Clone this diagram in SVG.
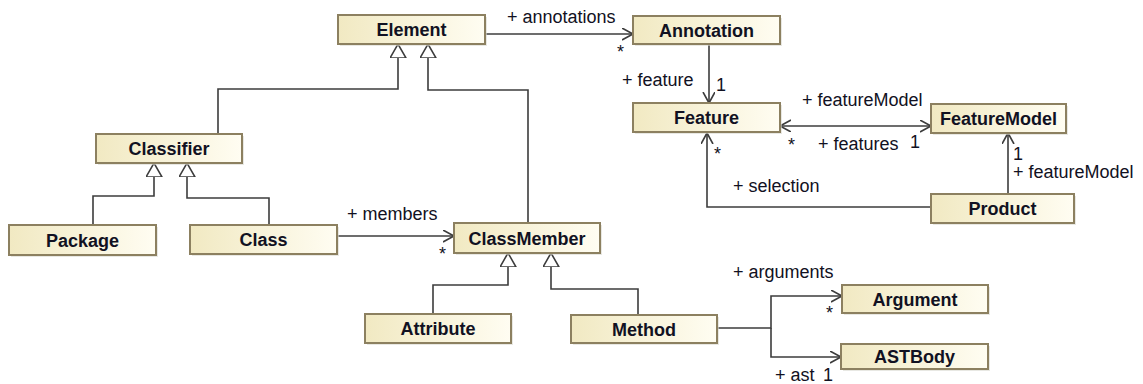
<svg xmlns="http://www.w3.org/2000/svg" width="1143" height="384" viewBox="0 0 1143 384">
<defs>
  <linearGradient id="fill" x1="0" y1="0" x2="1" y2="0">
    <stop offset="0" stop-color="#f1e9c2"/>
    <stop offset="1" stop-color="#fffdf2"/>
  </linearGradient>
  <marker id="open" markerUnits="userSpaceOnUse" markerWidth="14" markerHeight="14" refX="11" refY="6" orient="auto-start-reverse" viewBox="0 0 14 14">
    <path d="M0,0 L11,6 L0,12" fill="none" stroke="#3c3c3c" stroke-width="1.6"/>
  </marker>
  <marker id="tri" markerUnits="userSpaceOnUse" markerWidth="18" markerHeight="18" refX="14" refY="8" orient="auto" viewBox="0 0 18 18">
    <path d="M0,0 L14,8 L0,16 Z" fill="#ffffff" stroke="#3c3c3c" stroke-width="1.6"/>
  </marker>
</defs>
<style>
  .box rect.b { fill: url(#fill); stroke: #8c8060; stroke-width: 2; }
  .box rect.s { fill: #d8d8d0; opacity: 0.6; }
  .box text { font-family: "Liberation Sans", Arial, sans-serif; font-weight: bold; font-size: 18px; fill: #111122; text-anchor: middle; }
  .conn path { fill: none; stroke: #3c3c3c; stroke-width: 1.6; }
  .conn .a { marker-end: url(#open); }
  .conn .g { marker-end: url(#tri); }
  .lbl { font-family: "Liberation Sans", Arial, sans-serif; font-size: 18px; fill: #111122; }
</style>

<g id="connectors" class="conn">
  <path class="a" d="M485,34 L633,34"/>
  <path class="a" d="M709,44 L709,103"/>
  <path class="a" d="M780,126 L931,126" marker-start="url(#open)"/>
  <path class="a" d="M1008,194 L1008,133"/>
  <path class="a" d="M931,207 L707,207 L707,133"/>
  <path class="g" d="M218,134 L218,89 L398,89 L398,44"/>
  <path class="g" d="M528,223 L528,90 L428,90 L428,44"/>
  <path class="g" d="M93,225 L93,196 L154,196 L154,163"/>
  <path class="g" d="M269,225 L269,198 L187,198 L187,163"/>
  <path class="a" d="M337,236 L454,236"/>
  <path class="g" d="M433,314 L433,285 L508,285 L508,253"/>
  <path class="g" d="M638,315 L638,289 L551,289 L551,253"/>
  <path class="a" d="M717,328 L771,328 L771,296 L842,296"/>
  <path class="a" d="M771,328 L771,357 L841,357"/>
</g>

<g id="labels">
  <text class="lbl" x="507" y="23">+ annotations</text>
  <text class="lbl" x="617" y="58">*</text>
  <text class="lbl" x="622" y="86">+ feature</text>
  <text class="lbl" x="716" y="91">1</text>
  <text class="lbl" x="802" y="106">+ featureModel</text>
  <text class="lbl" x="788" y="151">*</text>
  <text class="lbl" x="818" y="150">+ features</text>
  <text class="lbl" x="910" y="148">1</text>
  <text class="lbl" x="1013" y="160">1</text>
  <text class="lbl" x="1013" y="178">+ featureModel</text>
  <text class="lbl" x="733" y="192">+ selection</text>
  <text class="lbl" x="714" y="160">*</text>
  <text class="lbl" x="347" y="220">+ members</text>
  <text class="lbl" x="439" y="260">*</text>
  <text class="lbl" x="733" y="278">+ arguments</text>
  <text class="lbl" x="826" y="319">*</text>
  <text class="lbl" x="775" y="381">+ ast</text>
  <text class="lbl" x="823" y="381">1</text>
</g>

<g id="Element" class="box"><rect class="s" x="340" y="17" width="147" height="29"/><rect class="b" x="338" y="15" width="147" height="29"/><text x="411.5" y="36">Element</text></g>
<g id="Annotation" class="box"><rect class="s" x="635" y="18" width="147" height="28"/><rect class="b" x="633" y="16" width="147" height="28"/><text x="706.5" y="36.5">Annotation</text></g>
<g id="Feature" class="box"><rect class="s" x="635" y="105" width="147" height="29"/><rect class="b" x="633" y="103" width="147" height="29"/><text x="706.5" y="124">Feature</text></g>
<g id="FeatureModel" class="box"><rect class="s" x="933" y="106" width="135" height="29"/><rect class="b" x="931" y="104" width="135" height="29"/><text x="998.5" y="125">FeatureModel</text></g>
<g id="Product" class="box"><rect class="s" x="933" y="196" width="143" height="29"/><rect class="b" x="931" y="194" width="143" height="29"/><text x="1002.5" y="215">Product</text></g>
<g id="Classifier" class="box"><rect class="s" x="98" y="136" width="146" height="29"/><rect class="b" x="96" y="134" width="146" height="29"/><text x="169" y="155">Classifier</text></g>
<g id="Package" class="box"><rect class="s" x="11" y="227" width="147" height="30"/><rect class="b" x="9" y="225" width="147" height="30"/><text x="82.5" y="246.5">Package</text></g>
<g id="Class" class="box"><rect class="s" x="192" y="227" width="147" height="29"/><rect class="b" x="190" y="225" width="147" height="29"/><text x="263.5" y="246">Class</text></g>
<g id="ClassMember" class="box"><rect class="s" x="456" y="225" width="146" height="30"/><rect class="b" x="454" y="223" width="146" height="30"/><text x="527" y="244.5">ClassMember</text></g>
<g id="Attribute" class="box"><rect class="s" x="367" y="316" width="146" height="29"/><rect class="b" x="365" y="314" width="146" height="29"/><text x="438" y="335">Attribute</text></g>
<g id="Method" class="box"><rect class="s" x="573" y="317" width="146" height="28"/><rect class="b" x="571" y="315" width="146" height="28"/><text x="644" y="335.5">Method</text></g>
<g id="Argument" class="box"><rect class="s" x="844" y="287" width="146" height="28"/><rect class="b" x="842" y="285" width="146" height="28"/><text x="915" y="305.5">Argument</text></g>
<g id="ASTBody" class="box"><rect class="s" x="843" y="346" width="147" height="25"/><rect class="b" x="841" y="344" width="147" height="25"/><text x="914.5" y="363">ASTBody</text></g>
</svg>
